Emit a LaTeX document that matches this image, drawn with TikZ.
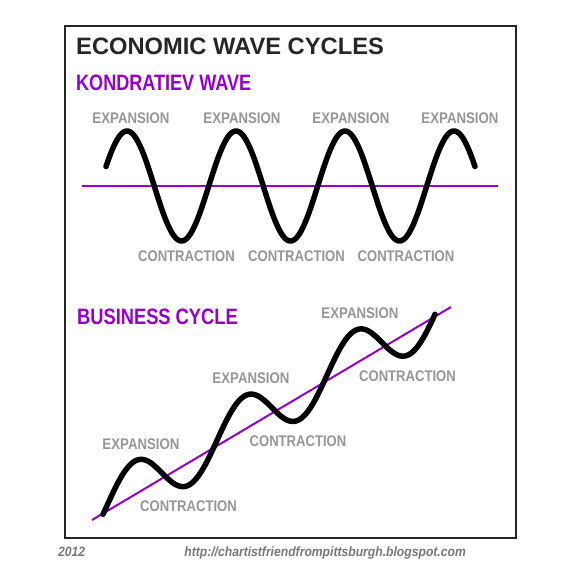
\documentclass[tikz,border=0pt]{standalone}
\usepackage{fontspec}
\setmainfont{Liberation Sans}
\definecolor{wavepurple}{RGB}{150,0,200}
\definecolor{labelgray}{RGB}{150,150,150}
\definecolor{footgray}{RGB}{120,120,120}
\tikzset{
  title/.style={inner sep=0pt, anchor=base west, font=\fontsize{23.7}{28}\selectfont\bfseries, text=black!85},
  subtitle/.style={inner sep=0pt, anchor=base west, font=\fontsize{22.3}{26}\selectfont\bfseries, text=wavepurple},
  phase/.style={inner sep=0pt, font=\fontsize{15.4}{18}\selectfont\bfseries, text=labelgray},
  foot/.style={inner sep=0pt, anchor=base, font=\fontsize{13.5}{16}\selectfont\bfseries\itshape, text=footgray},
  wave/.style={line width=5.5pt, line cap=round, line join=round},
  trend/.style={line width=2pt, wavepurple}
}
\begin{document}
\begin{tikzpicture}[x=1pt,y=-1pt]
\useasboundingbox (0,0) rectangle (580,577);
\fill[white] (0,0) rectangle (580,577);
% frame
\draw[line width=2.5pt, black!85] (65,26) rectangle (516,538);
% titles
\node[title] (ttl) at (76,55) {ECONOMIC WAVE CYCLES};
\node[subtitle] (kw) at (76,91) {\scalebox{0.81}[1]{KONDRATIEV WAVE}};
\node[subtitle] (bc) at (77,324) {\scalebox{0.82}[1]{BUSINESS CYCLE}};
% Kondratiev wave
\coordinate (kl) at (82,186);
\coordinate (kr) at (498,186);
\draw[trend] (kl) -- (kr);
\draw[wave] plot[domain=106:475, samples=240, smooth] (\x, {186 - 55*cos(3.30275*(\x-127))});
\node[phase] (ke1) at (131,118) {\scalebox{0.86}[1]{EXPANSION}};
\node[phase] (ke2) at (242,118) {\scalebox{0.86}[1]{EXPANSION}};
\node[phase] (ke3) at (351,118) {\scalebox{0.86}[1]{EXPANSION}};
\node[phase] (ke4) at (460,118) {\scalebox{0.86}[1]{EXPANSION}};
\node[phase] (kc1) at (186.5,256) {\scalebox{0.85}[1]{CONTRACTION}};
\node[phase] (kc2) at (296.5,256) {\scalebox{0.85}[1]{CONTRACTION}};
\node[phase] (kc3) at (406,256) {\scalebox{0.85}[1]{CONTRACTION}};
% Business cycle
\coordinate (bl) at (92,520);
\coordinate (br) at (451,307);
\draw[trend] (bl) -- (br);
\draw[wave] plot[domain=103:435, samples=260, smooth] (\x, {520 - 0.593*(\x-92) - 5.5 - 28*sin(3.27273*(\x-107))});
\node[phase] (be1) at (141,444) {\scalebox{0.86}[1]{EXPANSION}};
\node[phase] (bc1) at (188.5,506) {\scalebox{0.85}[1]{CONTRACTION}};
\node[phase] (be2) at (251,378) {\scalebox{0.86}[1]{EXPANSION}};
\node[phase] (bc2) at (298,441) {\scalebox{0.85}[1]{CONTRACTION}};
\node[phase] (be3) at (360,313) {\scalebox{0.86}[1]{EXPANSION}};
\node[phase] (bc3) at (407.5,376) {\scalebox{0.85}[1]{CONTRACTION}};
% footer
\node[foot, anchor=base west] (yr) at (58,556) {\scalebox{0.9}[1]{2012}};
\node[foot, anchor=base east] (url) at (466,556) {\scalebox{0.9}[1]{http://chartistfriendfrompittsburgh.blogspot.com}};
\end{tikzpicture}
\end{document}
